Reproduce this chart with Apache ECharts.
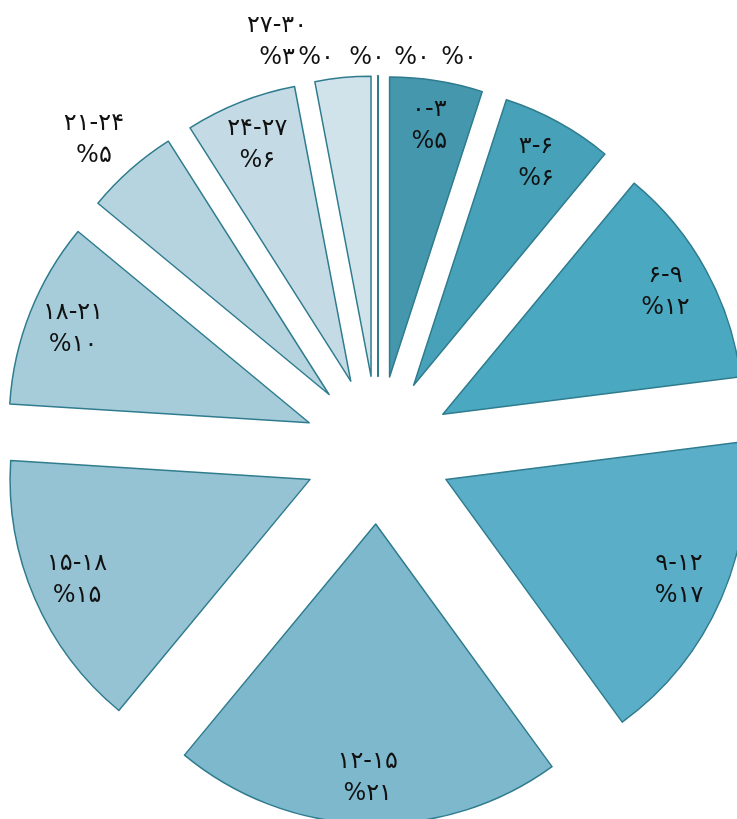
<!DOCTYPE html>
<html><head><meta charset="utf-8">
<script src="https://cdn.jsdelivr.net/npm/echarts@6/dist/echarts.min.js"></script>
<style>html,body{margin:0;padding:0;background:#fff}#c{width:737px;height:819px}</style>
</head><body><div id="c"></div>
<script>
// ---- data ----
const categories = ['۰-۳','۳-۶','۶-۹','۹-۱۲','۱۲-۱۵','۱۵-۱۸','۱۸-۲۱','۲۱-۲۴','۲۴-۲۷','۲۷-۳۰','','','',''];
const values = [5, 6, 12, 17, 21, 15, 10, 5, 6, 3, 0, 0, 0, 0];
// ---- styles ----
const sliceColors = ['#4497ac','#47a1b8','#4aa8c1','#5aaec8','#7db8cd','#95c3d3','#a6ccda','#b6d4df','#c4dbe5','#d0e3ea','#d0e3ea','#d0e3ea','#d0e3ea','#d0e3ea'];
const CX = 378, CY = 450, R = 300, OFF = 74;

const fa = s => String(s).replace(/\d/g, d => '۰۱۲۳۴۵۶۷۸۹'[d]);
const total = values.reduce((a, b) => a + b, 0);
function midAngle(i) {
  let s = 0;
  for (let k = 0; k < i; k++) s += values[k];
  return (s + values[i] / 2) / total * 2 * Math.PI;
}
const topGroupX = [-101, -62, -11, 34, 81];

const chart = echarts.init(document.getElementById('c'), null, {renderer: 'canvas'});
chart.setOption({
  animation: false,
  series: [{
    type: 'pie',
    center: [CX, CY],
    radius: [0, R],
    startAngle: 90,
    clockwise: true,
    selectedMode: 'multiple',
    selectedOffset: OFF,
    avoidLabelOverlap: false,
    silent: true,
    emphasis: {disabled: true},
    itemStyle: {borderColor: '#2f7c8e', borderWidth: 1.5},
    select: {itemStyle: {borderColor: '#2f7c8e', borderWidth: 1.5}},
    labelLine: {show: false},
    label: {show: false},
    data: values.map((v, i) => ({
      name: categories[i] || ('z' + i),
      value: v,
      selected: true,
      itemStyle: {color: sliceColors[i]}
    }))
  }, {
    // label carrier: transparent ring whose inside-label radius sits where the reference labels are
    type: 'pie',
    center: [CX, CY],
    radius: [OFF + 226, OFF + 276],
    startAngle: 90,
    clockwise: true,
    avoidLabelOverlap: false,
    silent: true,
    z: 5,
    emphasis: {disabled: true},
    itemStyle: {color: 'rgba(0,0,0,0)', borderWidth: 0},
    labelLine: {show: false},
    label: {
      show: true,
      position: 'inside',
      fontFamily: 'DejaVu Sans',
      fontSize: 24,
      lineHeight: 32,
      color: '#111',
      align: 'center',
      verticalAlign: 'middle',
      formatter: p => categories[p.dataIndex] + '\n%' + fa(values[p.dataIndex])
    },
    labelLayout: function (p) {
      const i = p.dataIndex;
      const a = midAngle(i);
      if (i === 7) {
        const d = 422;
        return {x: CX + d * Math.sin(a) - 5, y: CY - d * Math.cos(a) + 6, align: 'center', verticalAlign: 'middle'};
      }
      if (i >= 9) {
        return {x: CX + topGroupX[i - 9], y: CY - 408, align: 'center', verticalAlign: 'middle'};
      }
      return {};
    },
    data: values.map((v, i) => ({name: categories[i] || ('z' + i), value: v}))
  }]
});
</script>
</body></html>
